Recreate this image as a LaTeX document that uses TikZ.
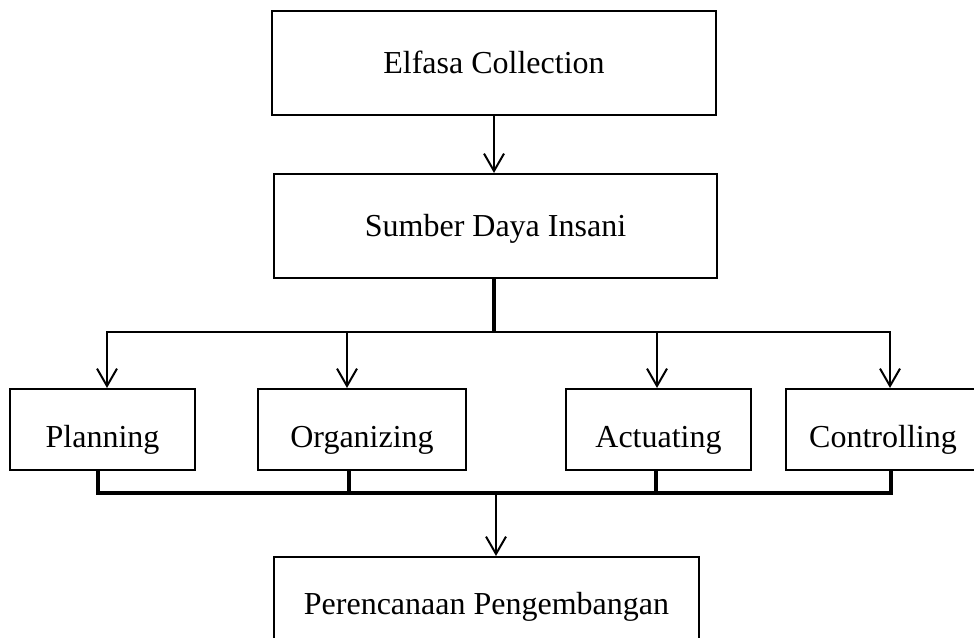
\documentclass[tikz,border=0pt]{standalone}
\usepackage{fontspec}
\setmainfont{Liberation Serif}
\usetikzlibrary{arrows.meta}
\begin{document}
\begin{tikzpicture}[x=0.75pt,y=-0.75pt,
  box/.style={draw,line width=1.6pt,inner sep=0pt,font=\fontsize{24}{28}\selectfont,text height=16pt,text depth=0pt},
  rowbox/.style={box,minimum height=60.75pt,text height=26.5pt,text depth=0pt},
  arr/.style={line width=1.5pt,-{Straight Barb[length=13pt,width=15pt,line width=1.5pt]}},
  bus/.style={line width=2pt,line cap=rect},
  stem/.style={line width=2.6pt}]
\clip (0,0) rectangle (974,637);
\fill[white] (0,0) rectangle (974,637);
\node[box,minimum width=333pt,minimum height=78pt] (e1) at (494,63) {Elfasa Collection};
\node[box,minimum width=332.25pt,minimum height=78pt] (e2) at (495.5,226) {Sumber Daya Insani};
\node[rowbox,minimum width=138.75pt] (plan) at (102.5,429.5) {Planning};
\node[rowbox,minimum width=156pt] (org) at (362,429.5) {Organizing};
\node[rowbox,minimum width=138.75pt] (act) at (658.5,429.5) {Actuating};
\node[rowbox,minimum width=145.5pt] (ctrl) at (883,429.5) {Controlling};
\node[box,minimum width=318.75pt,minimum height=69.75pt] (bot) at (486.5,603.5) {Perencanaan Pengembangan};
% top arrow
\draw[arr] (e1.south -| 494,0) -- (e2.north -| 494,0);
% upper bus
\coordinate (pA) at (107,332);
\coordinate (pB) at (347,332);
\coordinate (pC) at (657,332);
\coordinate (pD) at (890,332);
\draw[stem] (e2.south -| 494,0) -- (494,332);
\draw[bus] (pA) -- (pD);
\draw[arr] (pA) -- (pA |- plan.north);
\draw[arr] (pB) -- (pB |- org.north);
\draw[arr] (pC) -- (pC |- act.north);
\draw[arr] (pD) -- (pD |- ctrl.north);
% lower bus
\coordinate (qA) at (98,493);
\coordinate (qB) at (349,493);
\coordinate (qC) at (656,493);
\coordinate (qD) at (891,493);
\coordinate (qM) at (496,493);
\draw[stem] (qA |- plan.south) -- (qA);
\draw[stem] (qB |- org.south) -- (qB);
\draw[stem] (qC |- act.south) -- (qC);
\draw[stem] (qD |- ctrl.south) -- (qD);
\draw[bus,line width=2.4pt] (qA) -- (qD);
\draw[arr] (qM) -- (qM |- bot.north);
\end{tikzpicture}
\end{document}
